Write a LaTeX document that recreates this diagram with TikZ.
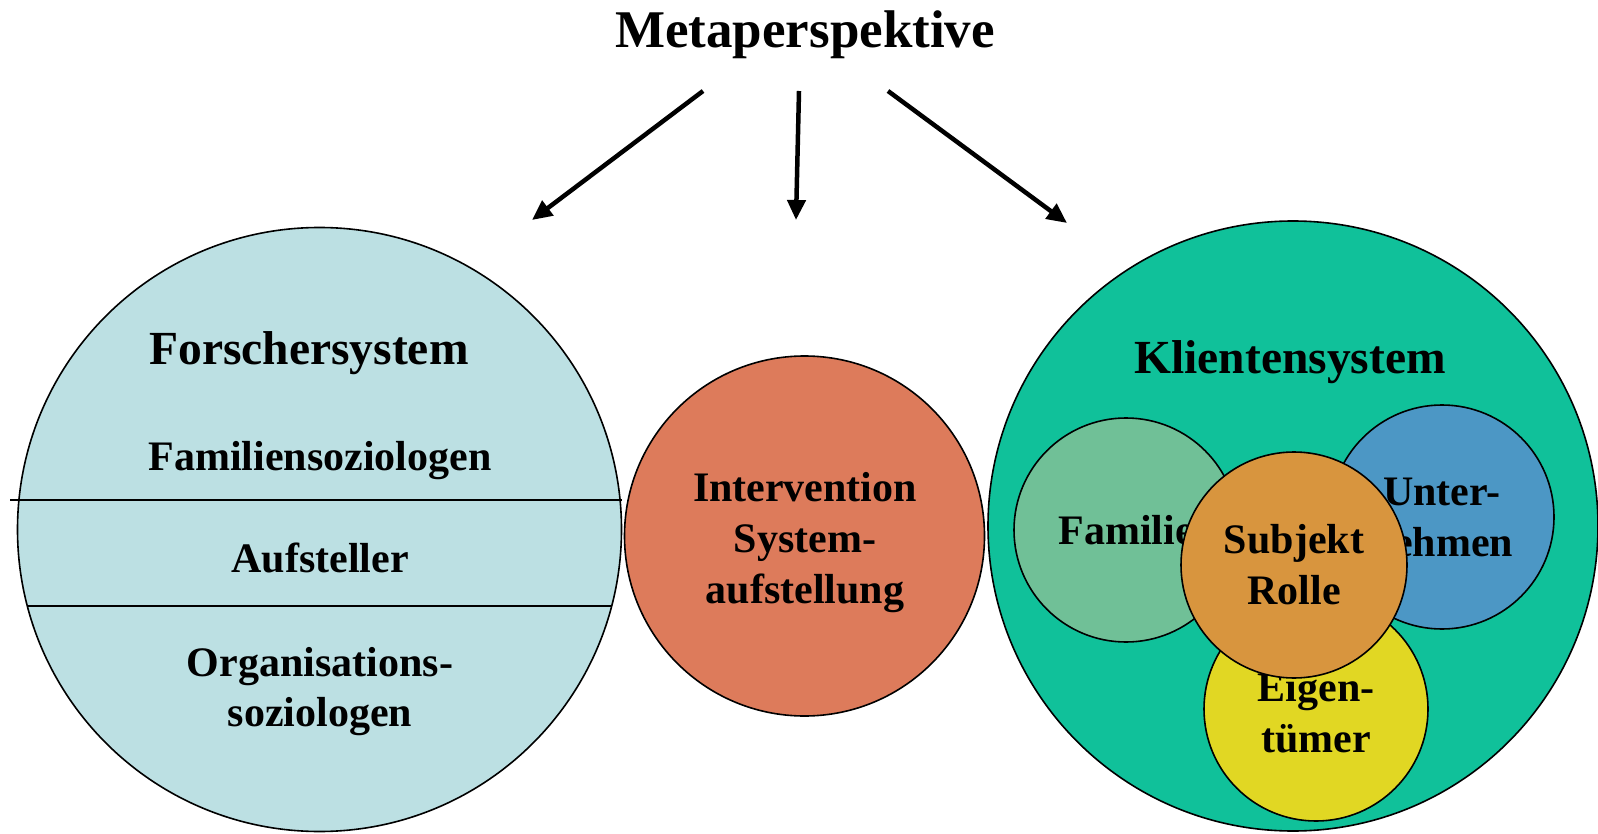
\documentclass[tikz,border=0pt]{standalone}
\usepackage{fontspec}
\setmainfont{Liberation Serif}
\usetikzlibrary{arrows.meta}
\definecolor{cForscher}{HTML}{BCE0E3}
\definecolor{cInterv}{HTML}{DD7B5B}
\definecolor{cKlient}{HTML}{10C19A}
\definecolor{cFamilie}{HTML}{70C097}
\definecolor{cUntern}{HTML}{4C97C5}
\definecolor{cEigen}{HTML}{E1D723}
\definecolor{cSubjekt}{HTML}{D8953E}
\newcommand\dgtitle{\bfseries\fontsize{53}{60}\selectfont}
\newcommand\dghead{\bfseries\fontsize{47.5}{56}\selectfont}
\newcommand\dgbody{\bfseries\fontsize{42}{51}\selectfont}
\begin{document}
\begin{tikzpicture}[x=1pt,y=-1pt,
  disc/.style={circle, draw=black, line width=1.6pt, inner sep=0pt, outer sep=0pt, align=center, font=\dgbody},
  bodytext/.style={font=\dgbody, anchor=base, inner sep=0pt},
  headtext/.style={font=\dghead, anchor=base, inner sep=0pt},
  divider/.style={line width=1.6pt},
  bigarrow/.style={line width=4.5pt, -{Triangle[length=20pt,width=18pt]}}]
\useasboundingbox (0,0) rectangle (1598,834);

% title and arrows
\node[font=\dgtitle, anchor=base, inner sep=0pt] (meta) at (805,48) {Metaperspektive};
\coordinate (a1s) at (703,91);  \coordinate (a1e) at (532,220);
\coordinate (a2s) at (799,91);  \coordinate (a2e) at (796,220);
\coordinate (a3s) at (888,91);  \coordinate (a3e) at (1067,223);
\draw[bigarrow] (a1s) -- (a1e);
\draw[bigarrow] (a2s) -- (a2e);
\draw[bigarrow] (a3s) -- (a3e);

% left circle
\node[disc, fill=cForscher, minimum size=604pt] (forscher) at (319.5,529.5) {};
\coordinate (lineAleft) at (10,500);
\coordinate (lineBleft) at (27,606);
\draw[divider] (lineAleft) -- (lineAleft -| forscher.east);
\draw[divider] (lineBleft) -- (lineBleft -| 612,0);
\node[headtext] (fsys) at (309,364) {Forschersystem};
\node[bodytext] (famsoz) at (320,470) {Familiensoziologen};
\node[bodytext] (aufst) at (320,572) {Aufsteller};
\node[bodytext] (orgsoz1) at (320,676) {Organisations-};
\node[bodytext] (orgsoz2) at (320,726) {soziologen};

% middle circle
\node[disc, fill=cInterv, minimum size=360pt] (interv) at (804.5,536) {};
\node[font=\dgbody, align=center, inner sep=0pt] (intervtext) at (805,543) {Intervention\\System-\\aufstellung};

% right circle
\node[disc, fill=cKlient, minimum size=610pt] (klient) at (1293,526) {};
\node[headtext] (ksys) at (1290,373) {Klientensystem};
\node[disc, fill=cFamilie, minimum size=224pt] (familie) at (1126,530) {Familie};
\node[disc, fill=cUntern, minimum size=224pt] (untern) at (1442,517) {Unter-\\nehmen};
\node[disc, fill=cEigen, minimum size=224pt] (eigen) at (1316,709) {};
\node[font=\dgbody, align=center, inner sep=0pt] (eigentext) at (1316,713) {Eigen-\\tümer};
\node[disc, fill=cSubjekt, minimum size=226pt] (subjekt) at (1294,565) {Subjekt\\Rolle};
\end{tikzpicture}
\end{document}
